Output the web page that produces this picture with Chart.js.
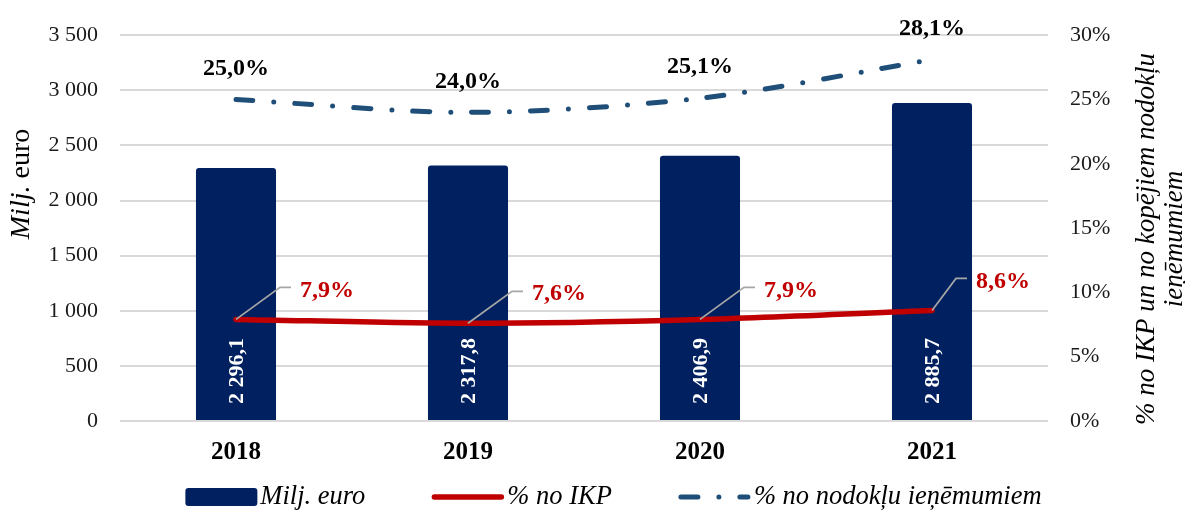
<!DOCTYPE html>
<html>
<head>
<meta charset="utf-8">
<script src="https://cdn.jsdelivr.net/npm/chart.js@4"></script>
<style>
  html, body { margin: 0; padding: 0; background: #ffffff; }
  #wrap { width: 1185px; height: 510px; }
</style>
</head>
<body>
<div id="wrap"><canvas id="chart" width="1185" height="510"></canvas></div>
<script>
// Budget amounts and shares by year
const years = ['2018', '2019', '2020', '2021'];
const millionsEur = [2296.1, 2317.8, 2406.9, 2885.7];
const shareOfGdp = [7.9, 7.6, 7.9, 8.6];
const shareOfTax = [25.0, 24.0, 25.1, 28.1];

// Axis ranges
const amountAxis = [0, 3500, 500];   // min, max, step
const percentAxis = [0, 30, 5];

const seriesNames = ['Milj. euro', '% no IKP', '% no nodokļu ieņēmumiem'];

const FONT = "'Liberation Serif', 'Times New Roman', serif";
const NAVY = '#002060';
const RED = '#C00000';
const STEEL = '#1F4E79';
const DASH_DOT = [17, 21, 0, 21];

// Latvian number format: space as thousands separator, comma as decimal mark
function lvNumber(v, decimals) {
  const parts = Number(v).toFixed(decimals).split('.');
  const grouped = parts[0].replace(/\B(?=(\d{3})+(?!\d))/g, ' ');
  return parts.length > 1 ? grouped + ',' + parts[1] : grouped;
}

const dataLabels = {
  id: 'dataLabels',
  afterDatasetsDraw(chart) {
    const { ctx, chartArea } = chart;
    ctx.save();

    // Amounts written upwards inside the bars, starting from the base
    ctx.font = `bold 22px ${FONT}`;
    ctx.fillStyle = '#ffffff';
    ctx.textAlign = 'left';
    ctx.textBaseline = 'middle';
    chart.getDatasetMeta(0).data.forEach((bar, i) => {
      ctx.save();
      ctx.translate(bar.x, bar.base - 16);
      ctx.rotate(-Math.PI / 2);
      ctx.fillText(lvNumber(millionsEur[i], 1), 0, 1);
      ctx.restore();
    });

    // Share of GDP, with leader lines
    ctx.font = `bold 24px ${FONT}`;
    chart.getDatasetMeta(1).data.forEach((pt, i) => {
      const text = lvNumber(shareOfGdp[i], 1) + '%';
      const w = ctx.measureText(text).width;
      let start = pt.x + 64;
      if (start + w > chartArea.right - 18) start = chartArea.right - 18 - w;
      const ly = pt.y - 32;
      ctx.strokeStyle = '#A6A6A6';
      ctx.lineWidth = 1.75;
      ctx.beginPath();
      ctx.moveTo(pt.x, pt.y);
      ctx.lineTo(start - 20, ly);
      ctx.lineTo(start - 9, ly);
      ctx.stroke();
      ctx.fillStyle = RED;
      ctx.textAlign = 'left';
      ctx.textBaseline = 'middle';
      ctx.fillText(text, start, pt.y - 29);
    });

    // Share of tax revenue, above the line
    ctx.fillStyle = '#000000';
    ctx.textAlign = 'center';
    ctx.textBaseline = 'middle';
    chart.getDatasetMeta(2).data.forEach((pt, i) => {
      ctx.fillText(lvNumber(shareOfTax[i], 1) + '%', pt.x, pt.y - 31);
    });

    ctx.restore();
  }
};

const axisTitles = {
  id: 'axisTitles',
  afterDraw(chart) {
    const { ctx } = chart;
    ctx.save();
    ctx.fillStyle = '#000000';
    ctx.textBaseline = 'middle';

    // Left title: "Milj." in italics followed by " euro"
    const a = 'Milj.', b = ' euro';
    ctx.font = `italic 28px ${FONT}`;
    const wa = ctx.measureText(a).width;
    ctx.font = `28px ${FONT}`;
    const wb = ctx.measureText(b).width;
    ctx.translate(22, 184);
    ctx.rotate(-Math.PI / 2);
    ctx.textAlign = 'left';
    ctx.font = `italic 28px ${FONT}`;
    ctx.fillText(a, -(wa + wb) / 2, 0);
    ctx.font = `28px ${FONT}`;
    ctx.fillText(b, -(wa + wb) / 2 + wa, 0);
    ctx.restore();

    // Right title on two lines
    ctx.save();
    ctx.fillStyle = '#000000';
    ctx.textBaseline = 'middle';
    ctx.textAlign = 'center';
    ctx.font = `italic 27px ${FONT}`;
    const lines = ['% no IKP un no kopējiem nodokļu', 'ieņēmumiem'];
    ctx.translate(1147, 239);
    ctx.rotate(-Math.PI / 2);
    lines.forEach((t, k) => ctx.fillText(t, 0, k * 28));
    ctx.restore();
  }
};

const bottomLegend = {
  id: 'bottomLegend',
  afterDraw(chart) {
    const { ctx } = chart;
    const ds = chart.data.datasets;
    const symW = 73, gapText = 3, gapItem = 66, cy = 497;
    ctx.save();
    ctx.font = `italic 26.5px ${FONT}`;
    const widths = ds.map(d => ctx.measureText(d.label).width);
    const total = widths.reduce((s, w) => s + symW + gapText + w, 0) + gapItem * (ds.length - 1);
    let x = 613 - total / 2;
    ds.forEach((d, i) => {
      ctx.save();
      if (d.type === 'bar') {
        ctx.fillStyle = d.backgroundColor;
        ctx.beginPath();
        ctx.roundRect(x + 1, cy - 9, symW - 1, 18, 3);
        ctx.fill();
      } else {
        ctx.strokeStyle = d.borderColor;
        ctx.lineWidth = d.borderWidth;
        ctx.lineCap = 'round';
        ctx.setLineDash(d.borderDash || []);
        ctx.beginPath();
        ctx.moveTo(x + 3, cy);
        ctx.lineTo(x + symW - 3, cy);
        ctx.stroke();
      }
      ctx.restore();
      ctx.fillStyle = '#000000';
      ctx.textAlign = 'left';
      ctx.textBaseline = 'middle';
      ctx.fillText(d.label, x + symW + gapText, cy);
      x += symW + gapText + widths[i] + gapItem;
    });
    ctx.restore();
  }
};

new Chart(document.getElementById('chart'), {
  type: 'bar',
  data: {
    labels: years,
    datasets: [
      {
        type: 'bar',
        label: seriesNames[0],
        data: millionsEur,
        backgroundColor: NAVY,
        borderRadius: { topLeft: 3, topRight: 3, bottomLeft: 0, bottomRight: 0 },
        borderSkipped: false,
        barPercentage: 0.345,
        categoryPercentage: 1,
        yAxisID: 'y',
        order: 3
      },
      {
        type: 'line',
        label: seriesNames[1],
        data: shareOfGdp,
        borderColor: RED,
        borderWidth: 5.5,
        borderCapStyle: 'round',
        tension: 0.3,
        pointRadius: 0,
        yAxisID: 'y1',
        order: 1
      },
      {
        type: 'line',
        label: seriesNames[2],
        data: shareOfTax,
        borderColor: STEEL,
        borderWidth: 5,
        borderDash: DASH_DOT,
        borderCapStyle: 'round',
        tension: 0.3,
        pointRadius: 0,
        yAxisID: 'y1',
        order: 2
      }
    ]
  },
  options: {
    responsive: false,
    animation: false,
    devicePixelRatio: 1,
    layout: { padding: { top: 32, bottom: 30, left: 0, right: 0 } },
    plugins: { legend: { display: false }, tooltip: { enabled: false } },
    scales: {
      x: {
        grid: { display: false, drawTicks: false },
        border: { display: false },
        ticks: { font: { family: FONT, size: 25, weight: 'bold' }, color: '#000000', padding: 17 },
        afterFit(s) { s.height = 59; }
      },
      y: {
        position: 'left',
        min: amountAxis[0], max: amountAxis[1],
        ticks: {
          stepSize: amountAxis[2],
          callback: v => lvNumber(v, 0),
          font: { family: FONT, size: 22 },
          color: '#1a1a1a',
          padding: 22
        },
        grid: { color: '#d9d9d9', lineWidth: 2, drawTicks: false },
        border: { display: false },
        afterFit(s) { s.width = 120; }
      },
      y1: {
        position: 'right',
        min: percentAxis[0], max: percentAxis[1],
        ticks: {
          stepSize: percentAxis[2],
          callback: v => v + '%',
          font: { family: FONT, size: 22 },
          color: '#1a1a1a',
          padding: 22
        },
        grid: { display: false, drawTicks: false },
        border: { display: false },
        afterFit(s) { s.width = 137; }
      }
    }
  },
  plugins: [dataLabels, axisTitles, bottomLegend]
});
</script>
</body>
</html>
